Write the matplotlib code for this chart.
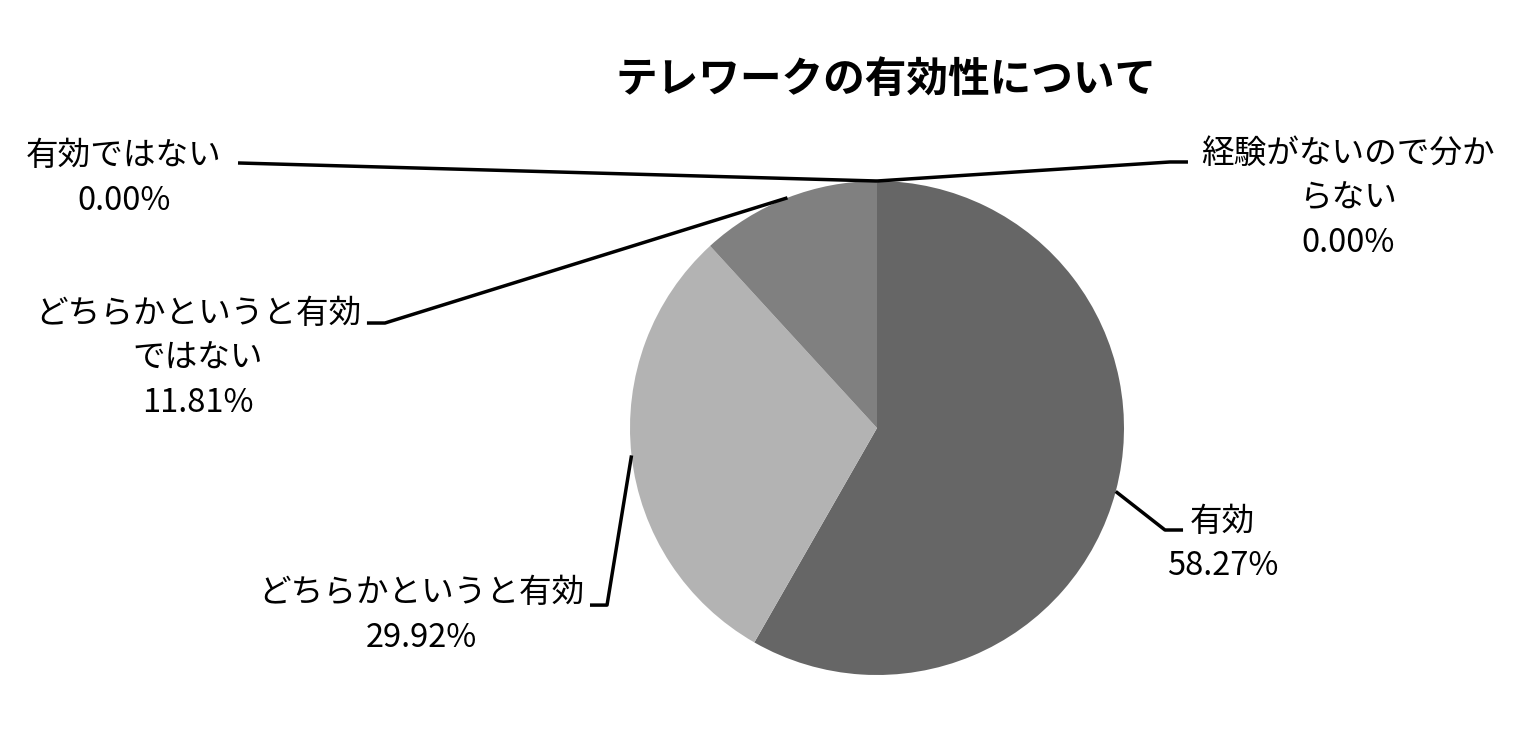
import numpy as np
import matplotlib
matplotlib.use("Agg")
import matplotlib.pyplot as plt

plt.rcParams['font.family'] = ['Noto Sans CJK JP', 'DejaVu Sans']

# データ
categories = ['有効', 'どちらかというと有効', 'どちらかというと有効ではない', '有効ではない', '経験がないので分からない']
label_texts = ['有効', 'どちらかというと有効', 'どちらかというと有効\nではない', '有効ではない', '経験がないので分か\nらない']
values = [58.27, 29.92, 11.81, 0.00, 0.00]
colors = ['#666666', '#b3b3b3', '#808080', '#4d4d4d', '#999999']

fig = plt.figure(figsize=(15.27, 7.31), dpi=100)

# 円グラフの位置 (中心 877,428 px, 半径 247 px)
cx, cy, r = 877 / 1527, 1 - 428 / 731, 247
ax = fig.add_axes([cx - r / 1527, cy - r / 731, 2 * r / 1527, 2 * r / 731])
wedges, _ = ax.pie(values, colors=colors, startangle=90, counterclock=False,
                   radius=1, wedgeprops=dict(linewidth=0))
ax.set_xlim(-1, 1)
ax.set_ylim(-1, 1)
ax.set_aspect('equal')
ax.axis('off')

# ラベルの配置 (折れ点, 終点, テキスト中心)
layout = [
    ((1.166, -0.413), (1.239, -0.413), (1.40, -0.47)),
    ((-1.093, -0.717), (-1.162, -0.717), (-1.846, -0.76)),
    ((-1.992, 0.425), (-2.065, 0.425), (-2.749, 0.28)),
    ((-2.587, 1.073), (-2.587, 1.073), (-3.049, 1.01)),
    ((1.186, 1.077), (1.259, 1.077), (1.907, 0.93)),
]

for w, lab, v, (elbow, end, tpos) in zip(wedges, label_texts, values, layout):
    ang = np.deg2rad((w.theta1 + w.theta2) / 2)
    x0, y0 = np.cos(ang), np.sin(ang)
    ax.plot([x0, elbow[0], end[0]], [y0, elbow[1], end[1]], color='black',
            lw=2.5, clip_on=False, solid_capstyle='butt')
    ax.text(tpos[0], tpos[1], f'{lab}\n{v:.2f}%', ha='center', va='center',
            multialignment='center', fontsize=23.5, linespacing=1.5)

fig.text(886 / 1527, 1 - 80 / 731, 'テレワークの有効性について', ha='center', va='center',
         fontsize=30, fontweight='bold')

fig.savefig('out.png', dpi=100)
